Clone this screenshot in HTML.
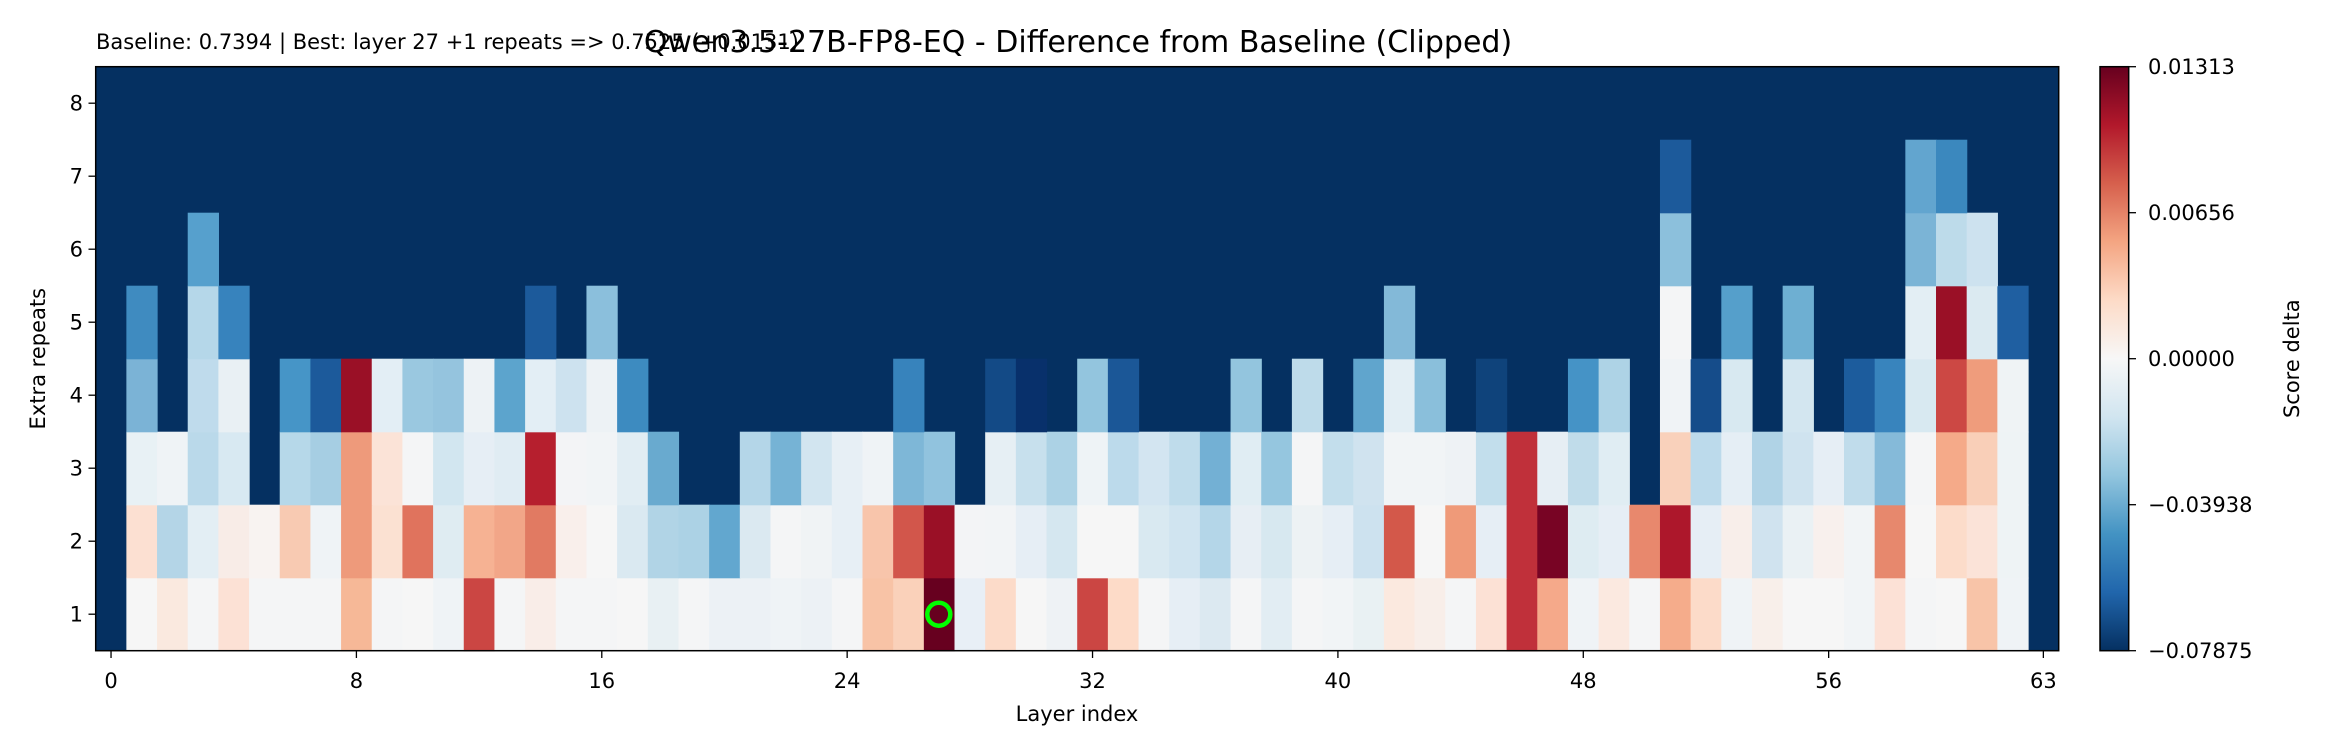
<!DOCTYPE html>
<html><head><meta charset="utf-8"><style>
html,body{margin:0;padding:0;background:#fff;width:2340px;height:756px;overflow:hidden}
svg{display:block}
text{font-family:"DejaVu Sans","Liberation Sans",sans-serif;fill:#000}
</style></head><body>
<svg id="s" width="2340" height="756" xmlns="http://www.w3.org/2000/svg">
<defs><linearGradient id="cb" x1="0" y1="0" x2="0" y2="1">
<stop offset="0" stop-color="#67001f"/><stop offset="0.1" stop-color="#b2182b"/><stop offset="0.2" stop-color="#d6604d"/><stop offset="0.3" stop-color="#f4a582"/><stop offset="0.4" stop-color="#fddbc7"/><stop offset="0.5" stop-color="#f7f7f7"/><stop offset="0.6" stop-color="#d1e5f0"/><stop offset="0.7" stop-color="#92c5de"/><stop offset="0.8" stop-color="#4393c3"/><stop offset="0.9" stop-color="#2166ac"/><stop offset="1" stop-color="#053061"/>
</linearGradient></defs>
<rect x="95.7" y="66.7" width="1963" height="584" fill="#053061"/>
<g id="cells"></g>
<circle cx="938.8" cy="614.2" r="11.5" fill="none" stroke="#00ff00" stroke-width="4.5"/>
<rect x="95.7" y="66.7" width="1963" height="584" fill="none" stroke="#000" stroke-width="1.5"/>
<g id="ticks"></g>
<text x="96" y="49" font-size="21">Baseline: 0.7394 | Best: layer 27 +1 repeats =&gt; 0.7525 (+0.0131)</text>
<text x="1078" y="52" font-size="30" text-anchor="middle">Qwen3.5-27B-FP8-EQ - Difference from Baseline (Clipped)</text>
<text x="1077" y="721" font-size="21" text-anchor="middle">Layer index</text>
<text transform="translate(45,358.7) rotate(-90)" font-size="21" text-anchor="middle">Extra repeats</text>
<rect x="2100" y="66.7" width="28.7" height="584" fill="url(#cb)" stroke="#000" stroke-width="1.5"/>
<text transform="translate(2299,358.7) rotate(-90)" font-size="21" text-anchor="middle">Score delta</text>
</svg>
<script>
var r1="N f6f6f6 fae9df f4f5f6 fce1d5 f4f5f6 f4f5f6 f4f5f6 f6b897 f4f5f6 f6f6f6 eff3f6 cb4643 f4f5f6 f9ede8 f4f5f6 f4f5f6 f6f6f6 e8f0f3 f4f5f6 ecf1f5 ecf1f5 eff3f6 ecf1f5 f4f5f6 f8c3a6 fad1ba 67001f e8eff6 fcdbc9 f6f6f6 eef2f5 cb4643 fddbc8 f4f5f6 e6eef5 dce9f1 f4f5f6 e2edf3 f4f5f6 f1f4f6 e9f1f3 fbe9df f8eee9 f4f5f6 fce1d5 c0303a f5a98a eff3f6 fbe9e0 f4f5f6 f5ac8b fcdbc9 eff3f6 f8efea f6f6f6 f6f6f6 f1f4f6 fce1d6 f4f5f6 f6f6f6 f8c4a8 eff3f6 N";
var r2="N fce0d2 b4d5e7 e3eef4 f8ece7 f8f3f1 f8cab2 eff3f6 ee9a7b fbe1d2 e0735d dfecf2 f6b293 f2a688 e17a62 f9efeb f6f6f6 dae9f1 b1d4e6 acd2e5 62a7cf dbe9f1 f4f5f6 f0f3f5 e7eff5 f8c5ab d2564b 9a1026 f3f4f6 f2f4f6 e6eef5 d5e7f0 f6f6f6 f6f6f6 d9e9f1 d0e4f0 b4d6e8 e7eef4 d7e8f0 edf2f4 e6eef5 cde2ef d3584a f6f6f6 ef9a79 e6eef5 c0303a 780424 deecf2 e6eef5 e8886d ad172b e6eef5 f8eeea d0e3ef eaf1f4 f8f0ed f1f4f6 e7886d f6f6f6 fcdcca fbe3d8 eef3f5 N";
var r3="N e8f1f5 eff3f6 bad9ea d8e9f2 N b6d8e9 a6cee3 ee9a7b fbe3d7 f4f5f6 d2e6f0 e6eef5 e0ecf3 b61f2e f3f4f6 f1f4f6 e1edf3 69aacf N N b4d6e8 76b3d5 d2e5f0 e7eff5 eff3f6 7eb7d7 91c3de N e6eff4 c7e0ed acd2e5 eef3f6 bcdaeb d3e5f1 bfdceb 73b0d4 e0edf3 95c6df f4f5f6 c3deec d0e3ef f1f4f6 f1f4f6 eef2f5 c2deec c0303a e6eef4 c0dcea e0edf3 N f9d1bb bcdaeb e5eef5 b0d3e6 cfe3ef e6eef5 c0dceb 85bad9 f4f5f6 f5aa89 f9cfb8 eef3f5 N";
var r4="N 7bb3d6 N bfdbec e9f0f4 N 4695c7 1c5a9b 9a1026 e3eef5 9ac8e0 95c4de edf2f5 5ca4cd e3eef5 cde2ef edf2f5 3d8bc0 N N N N N N N N 3783bc N N 134a86 08306b N 93c5de 1b5797 N N N 93c5de N bedbea N 60a5cd e3eef4 8abfdb N 0f437b N N 4593c6 aed3e6 N f0f3f6 154c8a d8e9f1 N d3e6f0 N 1c5c9d 3884bd d8e9f1 cc4844 ef9c7c eff3f5 N";
var sp={5:{1:'3f8bc0',3:'b5d7e9',4:'3783bd',14:'1c5a9b',16:'8bbfdc',42:'83b9d8',51:'f4f5f6',53:'559fcb',55:'6eafd2',59:'e3eef4',60:'9a1026',61:'dbeaf1',62:'1f5fa1'},
6:{3:'56a0cd',51:'8cc0dc',59:'7bb4d6',60:'bddbea',61:'cde2ef'},7:{51:'1c5a9b',59:'62a5cf',60:'3b88be'}};
var L=95.7,T=66.7,W=1963/64,H=584/8,out='';
function cell(c,r,col){var x=L+c*W,y=T+(8-r)*H;out+='<rect x="'+x.toFixed(2)+'" y="'+y.toFixed(2)+'" width="'+(W+0.6).toFixed(2)+'" height="'+(H+0.6).toFixed(2)+'" fill="#'+col+'"/>';}
[r1,r2,r3,r4].forEach(function(s,i){s.split(' ').forEach(function(v,c){if(v!='N')cell(c,i+1,v);});});
for(var r in sp)for(var c in sp[r])cell(+c,+r,sp[r][c]);
document.getElementById('cells').innerHTML=out;
var t='';
[0,8,16,24,32,40,48,56,63].forEach(function(c){var x=L+(c+0.5)*W;t+='<line x1="'+x+'" x2="'+x+'" y1="650.7" y2="658" stroke="#000" stroke-width="1.3"/><text x="'+x+'" y="688" font-size="21" text-anchor="middle">'+c+'</text>';});
for(var r=1;r<=8;r++){var y=T+(8.5-r)*H;t+='<line x1="88.5" x2="95.7" y1="'+y+'" y2="'+y+'" stroke="#000" stroke-width="1.3"/><text x="83" y="'+(y+7.5)+'" font-size="21" text-anchor="end">'+r+'</text>';}
var lab=['0.01313','0.00656','0.00000','\u22120.03938','\u22120.07875'];
for(var i=0;i<5;i++){var y=66.7+i*584/4;t+='<line x1="2128.7" x2="2136" y1="'+y+'" y2="'+y+'" stroke="#000" stroke-width="1.3"/><text x="2148" y="'+(y+7.5)+'" font-size="21">'+lab[i]+'</text>';}
document.getElementById('ticks').innerHTML=t;
</script>
</body></html>
